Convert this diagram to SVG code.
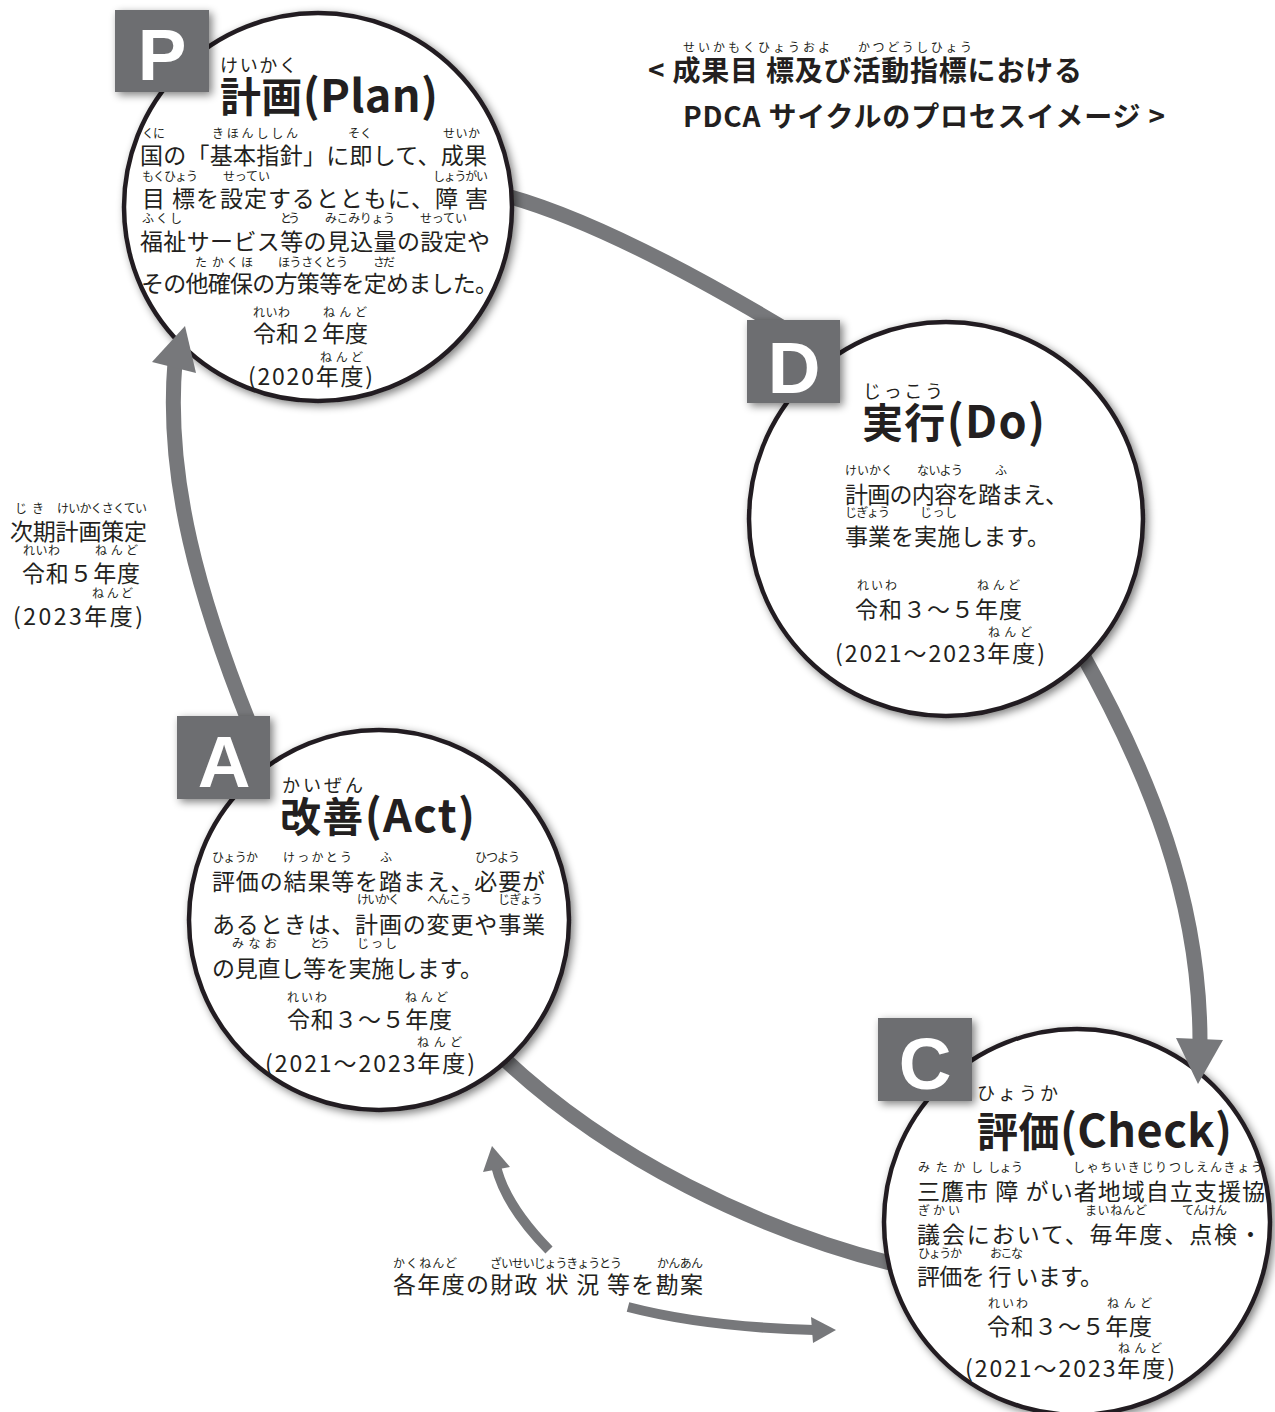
<svg xmlns="http://www.w3.org/2000/svg" width="1275" height="1412" viewBox="0 0 1275 1412">
<defs>
<filter id="sh" x="-15%" y="-15%" width="135%" height="135%">
<feGaussianBlur in="SourceAlpha" stdDeviation="4.5"/>
<feOffset dx="3" dy="3" result="b"/>
<feComponentTransfer><feFuncA type="linear" slope="0.5"/></feComponentTransfer>
<feMerge><feMergeNode/><feMergeNode in="SourceGraphic"/></feMerge>
</filter>
</defs>
<style>
.band{fill:none;stroke:#77787b;stroke-width:15}
.thin{fill:none;stroke:#77787b;stroke-width:10}
.head{fill:#77787b}
.circ{fill:#fff;stroke:#231f20;stroke-width:4.5}
.box{fill:#6d6e71}
.letter{font-family:"Liberation Sans","Noto Sans CJK JP",sans-serif;font-weight:700;font-size:73px;fill:#fff;text-anchor:middle}
.ttl{font-family:"Noto Sans CJK JP",sans-serif;font-weight:700;font-size:41px;fill:#231f20}
.lat{font-size:45px}
.rt{font-family:"Noto Sans CJK JP",sans-serif;font-size:18px;fill:#231f20}
.t{font-family:"Noto Sans CJK JP",sans-serif;font-size:23px;fill:#231f20}
.r{font-family:"Noto Sans CJK JP",sans-serif;font-size:12px;fill:#231f20}
.hd{font-family:"Noto Sans CJK JP",sans-serif;font-weight:700;font-size:28px;fill:#231f20}
</style>
<rect width="1275" height="1412" fill="#fff"/>

<g id="connectors">
<path class="band" d="M 500 194 Q 608 222 795 335"/>
<path class="band" d="M 1080 650 C 1150 775 1200 900 1200 1042"/>
<path class="band" d="M 890 1263 C 760 1230 610 1160 500 1055"/>
<path class="band" d="M 250 725 C 200 600 165 480 175 362"/>
<path class="thin" d="M 549 1250 Q 505 1205 496 1166"/>
<path class="thin" d="M 628 1307 Q 705 1327 814 1330"/>
</g>

<g id="node-plan">
<circle class="circ" cx="318" cy="207" r="194" filter="url(#sh)"/>
<rect class="box" x="115" y="10" width="94" height="82" filter="url(#sh)"/>
<text class="letter" x="162" y="80">P</text>
<text class="rt" x="220" y="72" textLength="77" lengthAdjust="spacing">けいかく</text>
<text class="ttl" x="220" y="112" textLength="218" lengthAdjust="spacing">計画<tspan class="lat">(Plan)</tspan></text>
<text class="r" x="142" y="138" textLength="23" lengthAdjust="spacing">くに</text>
<text class="r" x="212" y="138" textLength="86" lengthAdjust="spacing">きほんししん</text>
<text class="r" x="348" y="138" textLength="24" lengthAdjust="spacing">そく</text>
<text class="r" x="443" y="138" textLength="37" lengthAdjust="spacing">せいか</text>
<text class="t" x="140" y="164" textLength="347" lengthAdjust="spacing">国の「基本指針」に即して、成果</text>
<text class="r" x="142" y="181" textLength="56" lengthAdjust="spacing">もくひょう</text>
<text class="r" x="223" y="181" textLength="47" lengthAdjust="spacing">せってい</text>
<text class="r" x="433" y="181" textLength="55" lengthAdjust="spacing">しょうがい</text>
<text class="t" x="142" y="207" textLength="346" lengthAdjust="spacing">目 標を設定するとともに、障 害</text>
<text class="r" x="142" y="223" textLength="40" lengthAdjust="spacing">ふくし</text>
<text class="r" x="280" y="223" textLength="20" lengthAdjust="spacing">とう</text>
<text class="r" x="325" y="223" textLength="70" lengthAdjust="spacing">みこみりょう</text>
<text class="r" x="420" y="223" textLength="47" lengthAdjust="spacing">せってい</text>
<text class="t" x="140" y="250" textLength="350" lengthAdjust="spacing">福祉サービス等の見込量の設定や</text>
<text class="r" x="195" y="267">た</text>
<text class="r" x="212" y="267" textLength="41" lengthAdjust="spacing">かくほ</text>
<text class="r" x="278" y="267" textLength="70" lengthAdjust="spacing">ほうさくとう</text>
<text class="r" x="373" y="267" textLength="22" lengthAdjust="spacing">さだ</text>
<text class="t" x="141" y="292" textLength="357" lengthAdjust="spacing">その他確保の方策等を定めました。</text>
<text class="r" x="253" y="317" textLength="37" lengthAdjust="spacing">れいわ</text>
<text class="r" x="323" y="317" textLength="44" lengthAdjust="spacing">ねんど</text>
<text class="t" x="253" y="342" textLength="115" lengthAdjust="spacing">令和２年度</text>
<text class="r" x="320" y="362" textLength="43" lengthAdjust="spacing">ねんど</text>
<text class="t" x="248" y="385" textLength="125" lengthAdjust="spacing">(2020年度)</text>
</g>

<g id="node-do">
<circle class="circ" cx="946" cy="519" r="197" filter="url(#sh)"/>
<rect class="box" x="747" y="320" width="93" height="83" filter="url(#sh)"/>
<text class="letter" x="794" y="393">D</text>
<text class="rt" x="863" y="398" textLength="80" lengthAdjust="spacing">じっこう</text>
<text class="ttl" x="862" y="438" textLength="183" lengthAdjust="spacing">実行<tspan class="lat">(Do)</tspan></text>
<text class="r" x="845" y="475" textLength="48" lengthAdjust="spacing">けいかく</text>
<text class="r" x="917" y="475" textLength="46" lengthAdjust="spacing">ないよう</text>
<text class="r" x="995" y="475">ふ</text>
<text class="t" x="845" y="503" textLength="223" lengthAdjust="spacing">計画の内容を踏まえ、</text>
<text class="r" x="845" y="517" textLength="45" lengthAdjust="spacing">じぎょう</text>
<text class="r" x="920" y="517" textLength="37" lengthAdjust="spacing">じっし</text>
<text class="t" x="845" y="545" textLength="205" lengthAdjust="spacing">事業を実施します。</text>
<text class="r" x="857" y="590" textLength="40" lengthAdjust="spacing">れいわ</text>
<text class="r" x="977" y="590" textLength="43" lengthAdjust="spacing">ねんど</text>
<text class="t" x="855" y="618" textLength="167" lengthAdjust="spacing">令和３～５年度</text>
<text class="r" x="988" y="637" textLength="44" lengthAdjust="spacing">ねんど</text>
<text class="t" x="835" y="662" textLength="210" lengthAdjust="spacing">(2021～2023年度)</text>
</g>

<g id="node-act">
<circle class="circ" cx="379" cy="920" r="190" filter="url(#sh)"/>
<rect class="box" x="177" y="716" width="93" height="83" filter="url(#sh)"/>
<text class="letter" x="224" y="787">A</text>
<text class="rt" x="282" y="792" textLength="81" lengthAdjust="spacing">かいぜん</text>
<text class="ttl" x="280" y="832" textLength="195" lengthAdjust="spacing">改善<tspan class="lat">(Act)</tspan></text>
<text class="r" x="212" y="862" textLength="46" lengthAdjust="spacing">ひょうか</text>
<text class="r" x="283" y="862" textLength="69" lengthAdjust="spacing">けっかとう</text>
<text class="r" x="380" y="862">ふ</text>
<text class="r" x="475" y="862" textLength="45" lengthAdjust="spacing">ひつよう</text>
<text class="t" x="212" y="890" textLength="333" lengthAdjust="spacing">評価の結果等を踏まえ、必要が</text>
<text class="r" x="357" y="904" textLength="43" lengthAdjust="spacing">けいかく</text>
<text class="r" x="427" y="904" textLength="45" lengthAdjust="spacing">へんこう</text>
<text class="r" x="498" y="904" textLength="45" lengthAdjust="spacing">じぎょう</text>
<text class="t" x="212" y="933" textLength="333" lengthAdjust="spacing">あるときは、計画の変更や事業</text>
<text class="r" x="232" y="948" textLength="45" lengthAdjust="spacing">みなお</text>
<text class="r" x="310" y="948" textLength="20" lengthAdjust="spacing">とう</text>
<text class="r" x="357" y="948" textLength="40" lengthAdjust="spacing">じっし</text>
<text class="t" x="212" y="977" textLength="271" lengthAdjust="spacing">の見直し等を実施します。</text>
<text class="r" x="287" y="1002" textLength="40" lengthAdjust="spacing">れいわ</text>
<text class="r" x="405" y="1002" textLength="43" lengthAdjust="spacing">ねんど</text>
<text class="t" x="287" y="1028" textLength="165" lengthAdjust="spacing">令和３～５年度</text>
<text class="r" x="417" y="1047" textLength="45" lengthAdjust="spacing">ねんど</text>
<text class="t" x="265" y="1072" textLength="210" lengthAdjust="spacing">(2021～2023年度)</text>
</g>

<g id="node-check">
<circle class="circ" cx="1077" cy="1222" r="193" filter="url(#sh)"/>
<rect class="box" x="878" y="1018" width="94" height="83" filter="url(#sh)"/>
<text class="letter" x="925" y="1089">C</text>
<text class="rt" x="977" y="1100" textLength="81" lengthAdjust="spacing">ひょうか</text>
<text class="ttl" x="977" y="1147" textLength="255" lengthAdjust="spacing">評価<tspan class="lat">(Check)</tspan></text>
<text class="r" x="918" y="1172" textLength="65" lengthAdjust="spacing">みたかし</text>
<text class="r" x="988" y="1172" textLength="35" lengthAdjust="spacing">しょう</text>
<text class="r" x="1073" y="1172" textLength="190" lengthAdjust="spacing">しゃちいきじりつしえんきょう</text>
<text class="t" x="917" y="1200" textLength="348" lengthAdjust="spacing">三鷹市 障 がい者地域自立支援協</text>
<text class="r" x="918" y="1215" textLength="42" lengthAdjust="spacing">ぎかい</text>
<text class="r" x="1085" y="1215" textLength="62" lengthAdjust="spacing">まいねんど</text>
<text class="r" x="1182" y="1215" textLength="45" lengthAdjust="spacing">てんけん</text>
<text class="t" x="917" y="1243" textLength="345" lengthAdjust="spacing">議会において、毎年度、点検・</text>
<text class="r" x="918" y="1258" textLength="44" lengthAdjust="spacing">ひょうか</text>
<text class="r" x="990" y="1258" textLength="33" lengthAdjust="spacing">おこな</text>
<text class="t" x="917" y="1285" textLength="186" lengthAdjust="spacing">評価を 行 います。</text>
<text class="r" x="988" y="1308" textLength="40" lengthAdjust="spacing">れいわ</text>
<text class="r" x="1107" y="1308" textLength="45" lengthAdjust="spacing">ねんど</text>
<text class="t" x="987" y="1335" textLength="165" lengthAdjust="spacing">令和３～５年度</text>
<text class="r" x="1118" y="1353" textLength="44" lengthAdjust="spacing">ねんど</text>
<text class="t" x="965" y="1377" textLength="210" lengthAdjust="spacing">(2021～2023年度)</text>
</g>

<g id="arrowheads">
<polygon class="head" points="1176,1038 1223,1040 1198,1084"/>
<polygon class="head" points="185,326 152,362 196,373"/>
<polygon class="head" points="492,1146 483,1172 510,1167"/>
<polygon class="head" points="836,1330 811,1317 813,1343"/>
</g>

<g id="label-next">
<text class="r" x="15" y="513">じ</text>
<text class="r" x="32" y="513">き</text>
<text class="r" x="57" y="513" textLength="90" lengthAdjust="spacing">けいかくさくてい</text>
<text class="t" x="10" y="540" textLength="137" lengthAdjust="spacing">次期計画策定</text>
<text class="r" x="23" y="555" textLength="37" lengthAdjust="spacing">れいわ</text>
<text class="r" x="95" y="555" textLength="43" lengthAdjust="spacing">ねんど</text>
<text class="t" x="22" y="582" textLength="118" lengthAdjust="spacing">令和５年度</text>
<text class="r" x="92" y="598" textLength="41" lengthAdjust="spacing">ねんど</text>
<text class="t" x="13" y="625" textLength="130" lengthAdjust="spacing">(2023年度)</text>
</g>

<g id="label-budget">
<text class="r" x="393" y="1268" textLength="64" lengthAdjust="spacing">かくねんど</text>
<text class="r" x="490" y="1268" textLength="132" lengthAdjust="spacing">ざいせいじょうきょうとう</text>
<text class="r" x="657" y="1268" textLength="46" lengthAdjust="spacing">かんあん</text>
<text class="t" x="393" y="1293" textLength="310" lengthAdjust="spacing">各年度の財政 状 況 等を勘案</text>
</g>

<g id="heading">
<text class="r" x="683" y="52" textLength="147" lengthAdjust="spacing">せいかもくひょうおよ</text>
<text class="r" x="858" y="52" textLength="114" lengthAdjust="spacing">かつどうしひょう</text>
<text class="hd" x="648" y="81" textLength="434" lengthAdjust="spacing">&lt; 成果目 標及び活動指標における</text>
<text class="hd" x="683" y="127" textLength="482" lengthAdjust="spacing">PDCA サイクルのプロセスイメージ &gt;</text>
</g>
</svg>
